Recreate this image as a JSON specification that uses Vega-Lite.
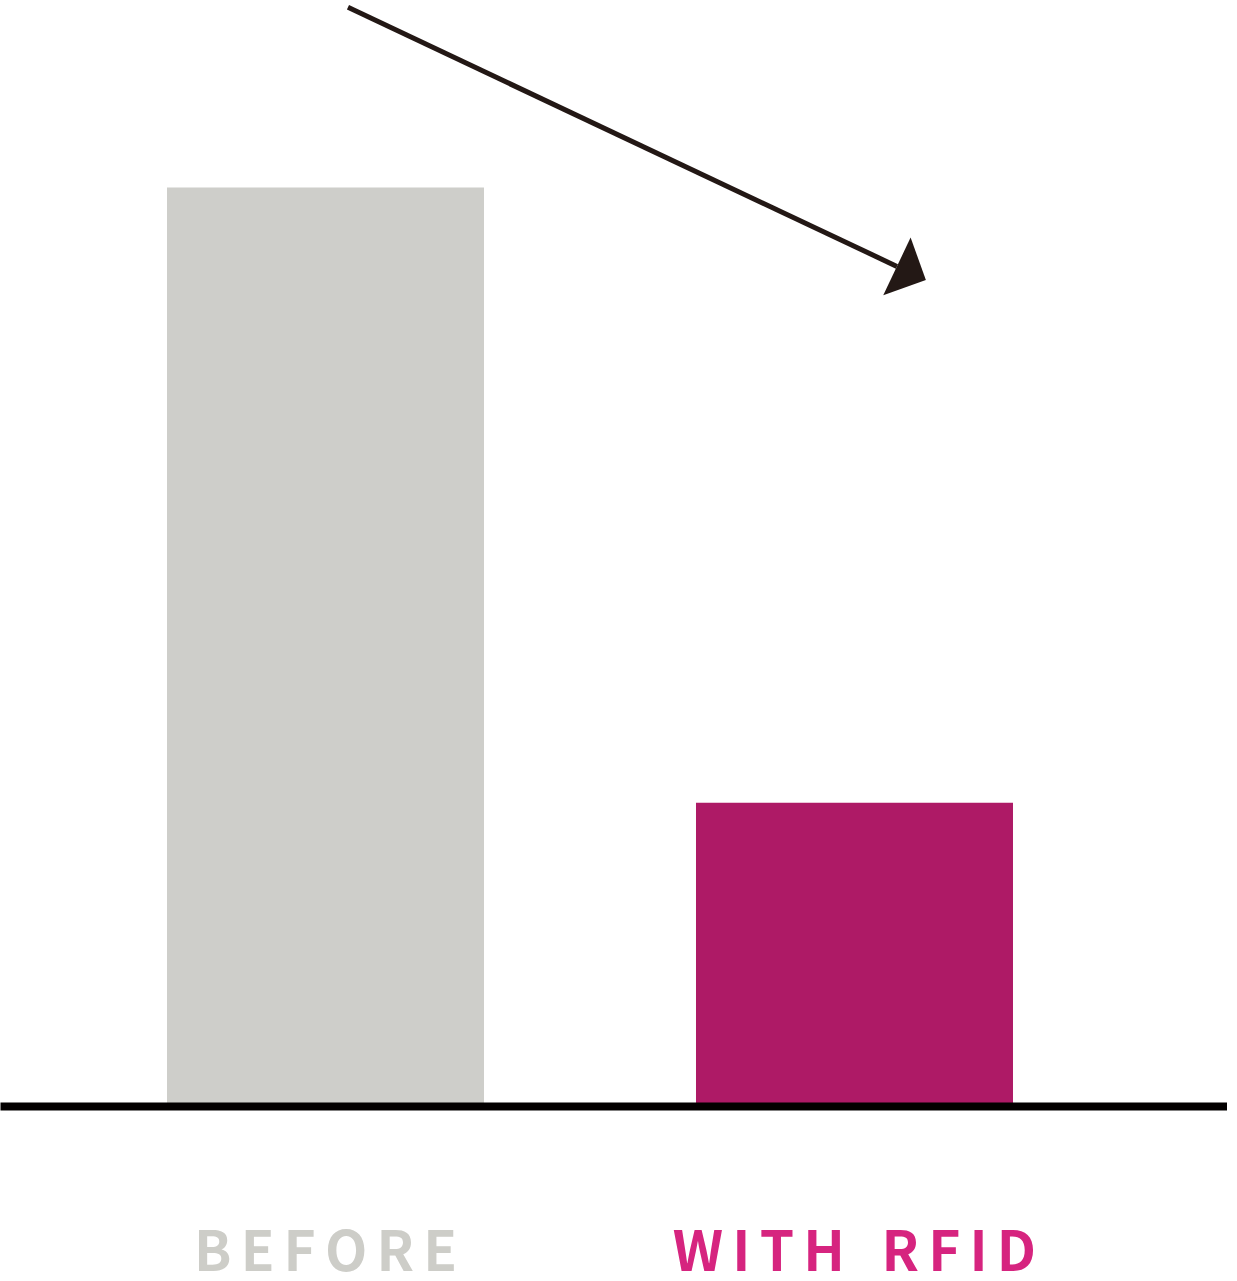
{
  "$schema": "https://vega.github.io/schema/vega-lite/v6.json",
  "width": 1227,
  "height": 1106,
  "padding": 0,
  "background": "white",
  "view": {"stroke": null},
  "datasets": {
    "bars": [
      {"phase": "BEFORE", "value": 100},
      {"phase": "WITH RFID", "value": 33}
    ],
    "trend": [
      {"x_start": 28.36, "y_start": 119.6, "x_end": 73.1, "y_end": 91.4}
    ]
  },
  "layer": [
    {
      "data": {"name": "bars"},
      "mark": {"type": "bar"},
      "encoding": {
        "x": {
          "field": "phase",
          "type": "nominal",
          "sort": null,
          "scale": {"paddingInner": 0.40076, "paddingOuter": 0.36011, "align": 0.4383, "round": false},
          "axis": {
            "title": null,
            "orient": "bottom",
            "domain": true,
            "domainColor": "#030000",
            "domainWidth": 8,
            "ticks": false,
            "tickSize": 0,
            "grid": false,
            "labelAngle": 0,
            "labelPadding": 121,
            "labelLimit": 0,
            "labelOverlap": false,
            "labelFont": "Noto Sans CJK JP",
            "labelFontSize": 55,
            "labelFontWeight": "bold",
            "labelColor": {"expr": "datum.label == 'BEFORE' ? '#cdcdc8' : '#d6247f'"},
            "labelExpr": "join(split(replace(datum.label, ' ', '\u2004'), ''), '\u2006')",
            "zindex": 1
          }
        },
        "y": {
          "field": "value",
          "type": "quantitative",
          "scale": {"domain": [0, 120.4], "nice": false, "zero": true},
          "axis": null
        },
        "color": {
          "field": "phase",
          "type": "nominal",
          "scale": {"domain": ["BEFORE", "WITH RFID"], "range": ["#cececa", "#ae1a66"]},
          "legend": null
        }
      }
    },
    {
      "data": {"name": "trend"},
      "mark": {"type": "rule", "color": "#231815", "strokeWidth": 5, "strokeCap": "butt"},
      "encoding": {
        "x": {"field": "x_start", "type": "quantitative", "scale": {"domain": [0, 100], "nice": false, "zero": false}, "axis": null},
        "y": {"field": "y_start", "type": "quantitative", "scale": {"domain": [0, 120.4], "nice": false, "zero": true}, "axis": null},
        "x2": {"field": "x_end"},
        "y2": {"field": "y_end"}
      }
    },
    {
      "data": {"name": "trend"},
      "mark": {
        "type": "point",
        "shape": "M1,0L0,-1L0,1Z",
        "filled": true,
        "color": "#231815",
        "opacity": 1,
        "size": 4096,
        "angle": 25.3
      },
      "encoding": {
        "x": {"field": "x_end", "type": "quantitative", "scale": {"domain": [0, 100], "nice": false, "zero": false}, "axis": null},
        "y": {"field": "y_end", "type": "quantitative", "scale": {"domain": [0, 120.4], "nice": false, "zero": true}, "axis": null}
      }
    }
  ],
  "resolve": {"scale": {"x": "independent"}}
}
